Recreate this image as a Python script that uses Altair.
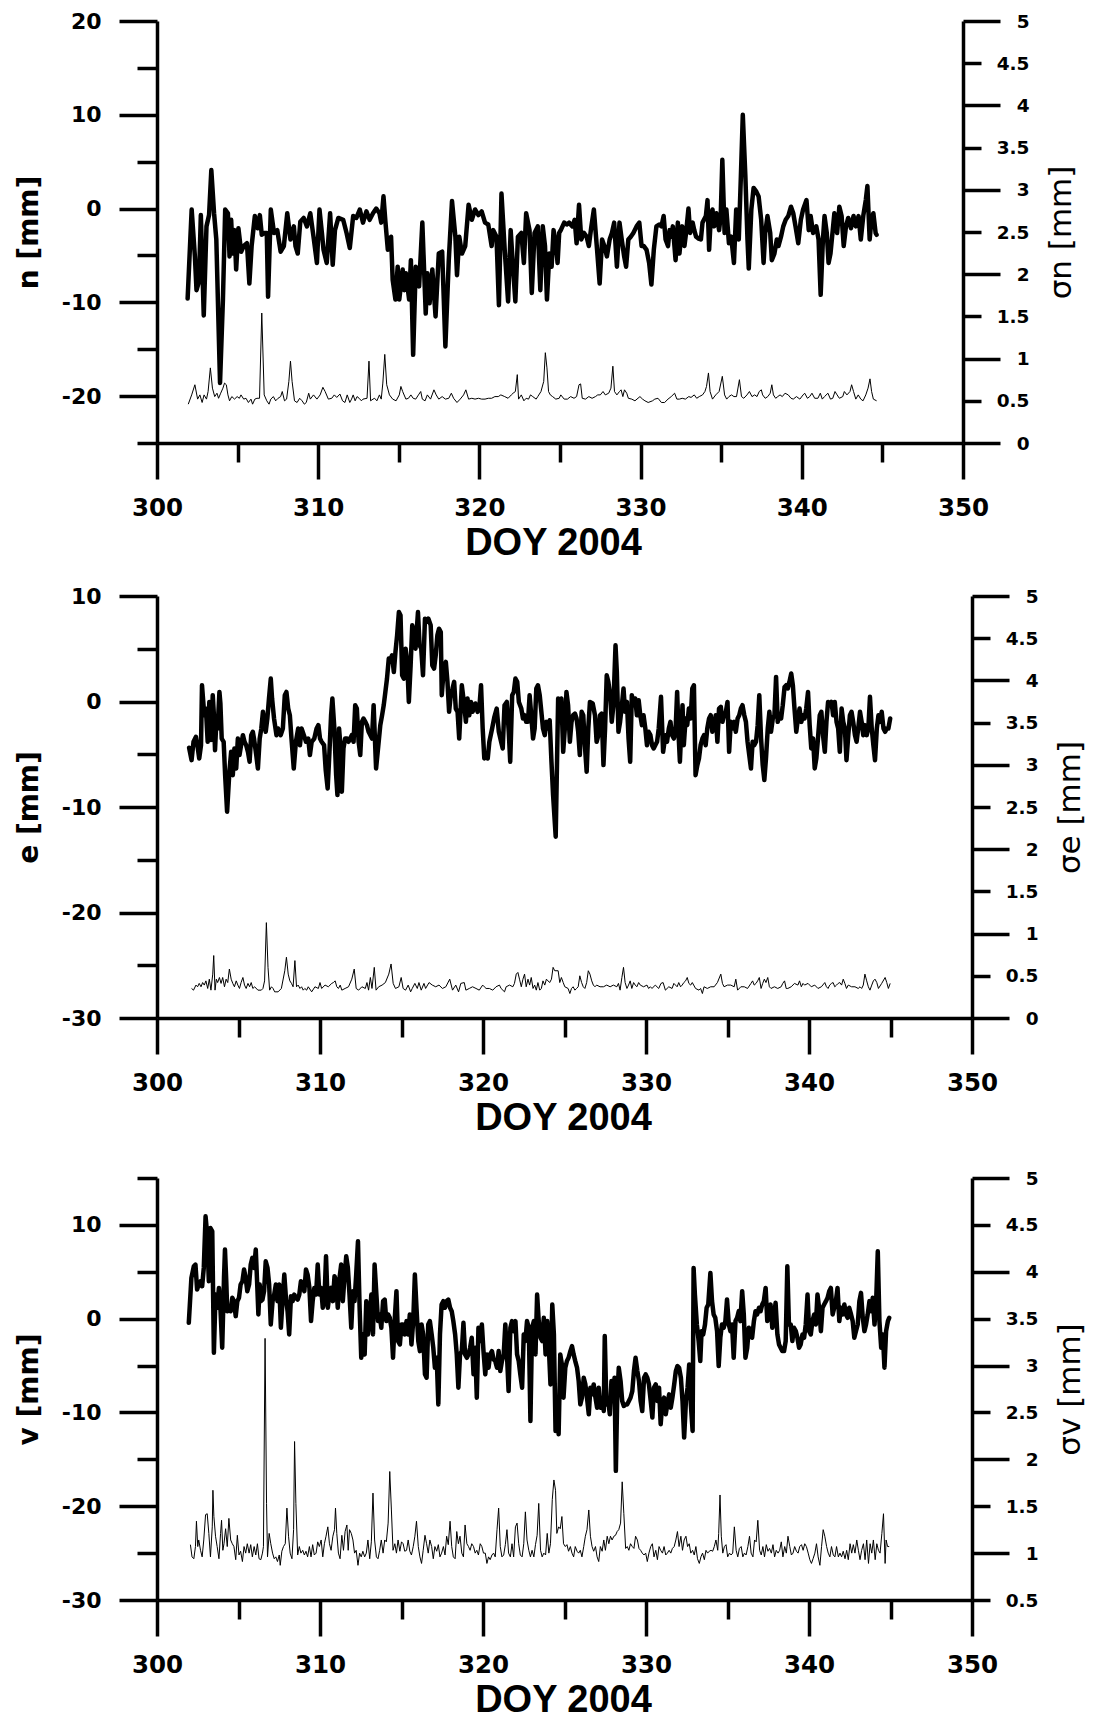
import altair as alt
import pandas as pd

# ---------------- data (DOY 2004, value) ----------------
N_SERIES = [
(301.90,-9.6),(302.15,-0.1),(302.35,-5.1),(302.45,-8.7),(302.60,-7.8),(302.72,-0.7),(302.90,-11.4),(303.07,-1.9),(303.23,-0.7),(303.37,4.1),
(303.54,-0.5),(303.68,-3.3),(303.91,-18.6),(304.09,-9.7),(304.23,-0.1),(304.40,-0.5),(304.50,-5.1),(304.60,-1.2),(304.70,-4.8),(304.81,-2.3),
(304.91,-6.5),(305.05,-2.1),(305.22,-4.6),(305.38,-4.0),(305.58,-3.7),(305.73,-8.0),(305.87,-4.0),(306.07,-0.8),(306.24,-2.1),(306.38,-0.7),
(306.50,-2.8),(306.65,-2.6),(306.81,-2.6),(306.89,-9.4),(307.06,-0.1),(307.26,-2.6),(307.46,-2.3),(307.67,-4.6),(307.87,-4.0),(308.08,-0.5),
(308.28,-3.3),(308.49,-1.9),(308.59,-4.0),(308.73,-4.8),(308.89,-1.4),(309.10,-1.0),(309.30,-1.9),(309.51,-0.5),(309.71,-3.0),(309.92,-5.8),
(310.08,-0.1),(310.23,-2.6),(310.33,-4.4),(310.53,-5.8),(310.74,-0.5),(310.90,-6.0),(311.04,-2.3),(311.25,-1.0),(311.55,-1.2),(311.76,-2.6),
(311.96,-4.2),(312.17,-0.8),(312.37,-1.0),(312.58,-0.1),(312.78,-1.5),(312.99,-0.3),(313.19,-1.2),(313.40,-0.5),(313.60,0.0),(313.80,-0.5),
(313.91,-1.5),(314.05,1.3),(314.17,-1.4),(314.32,-4.4),(314.52,-3.0),(314.62,-7.6),(314.79,-9.7),(314.93,-6.2),(315.03,-9.7),(315.24,-6.5),
(315.34,-8.7),(315.44,-6.9),(315.64,-9.7),(315.75,-5.5),(315.89,-15.6),(316.05,-6.2),(316.26,-8.3),(316.46,-1.5),(316.67,-11.2),(316.77,-6.9),
(316.91,-10.1),(317.08,-6.5),(317.28,-11.5),(317.48,-4.8),(317.69,-4.6),(317.89,-14.7),(318.10,-5.5),(318.30,0.8),(318.51,-3.0),(318.61,-7.1),
(318.75,-3.0),(318.92,-4.8),(319.12,-4.0),(319.33,0.4),(319.53,-1.2),(319.73,-0.1),(319.94,-0.7),(320.14,-0.3),(320.35,-1.5),(320.55,-1.7),
(320.76,-4.0),(320.86,-2.3),(321.06,-3.0),(321.21,-10.3),(321.37,1.6),(321.57,-4.4),(321.78,-9.9),(321.94,-2.3),(322.11,-6.9),(322.23,-9.9),
(322.39,-3.0),(322.60,-2.6),(322.76,-5.8),(322.90,-0.5),(323.11,-2.3),(323.25,-9.0),(323.42,-2.6),
(323.62,-1.9),(323.78,-8.7),(323.93,-1.9),(324.07,-4.0),(324.19,-9.7),(324.34,-4.8),(324.48,-6.2),(324.60,-2.3),(324.74,-3.7),(324.85,-5.8),
(324.95,-2.6),(325.05,-2.3),(325.26,-1.5),(325.42,-1.7),(325.56,-1.5),(325.77,-1.9),(325.91,-1.2),(326.03,-3.7),(326.18,0.4),(326.32,-3.3),
(326.48,-2.6),(326.65,-3.0),(326.79,-4.0),(326.93,-2.1),(327.10,-0.1),(327.30,-4.4),(327.46,-8.0),(327.61,-3.3),(327.75,-4.0),(327.91,-5.1),
(328.08,-3.3),(328.22,-2.6),(328.36,-1.5),(328.53,-6.2),(328.69,-1.5),(328.83,-3.3),(328.98,-5.1),(329.10,-6.2),(329.24,-3.3),(329.39,-3.0),
(329.55,-2.6),(329.75,-1.9),(329.92,-1.5),(330.06,-4.0),(330.20,-4.0),(330.37,-4.4),(330.53,-5.8),(330.67,-8.1),(330.82,-4.4),(330.98,-1.9),
(331.15,-1.7),(331.29,-1.9),(331.43,-0.8),(331.55,-3.3),(331.70,-4.0),(331.80,-2.3),(331.90,-3.0),(332.00,-1.9),(332.17,-5.5),(332.31,-1.5),
(332.41,-4.8),(332.58,-1.9),(332.72,-4.0),(332.82,-2.6),(332.97,0.0),(333.07,-2.6),(333.23,-1.5),(333.33,-2.3),(333.44,-3.0),(333.60,-3.2),
(333.74,-3.3),(333.84,-1.5),(334.05,-0.8),(334.15,0.9),(334.25,-4.4),(334.36,-0.8),(334.46,-0.1),(334.56,-1.9),(334.70,-0.5),(334.87,-2.3),
(334.97,-0.8),(335.07,5.2),(335.21,-2.6),(335.32,-0.1),(335.48,-3.7),(335.62,-3.0),(335.79,-5.8),(335.93,-0.1),(336.09,-3.3),(336.22,3.4),
(336.34,10.0),(336.50,3.4),(336.63,-3.3),(336.71,-6.4),(336.87,-0.1),(337.01,2.2),(337.18,1.8),(337.32,1.3),(337.48,-1.2),(337.63,-5.8),
(337.73,-2.6),(337.87,-0.8),(338.04,-2.6),(338.14,-5.5),(338.30,-4.8),(338.45,-3.3),(338.55,-4.0),(338.71,-3.0),(338.85,-1.9),(339.00,-1.2),
(339.16,-0.8),(339.33,0.2),(339.47,-0.5),(339.61,-1.9),(339.78,-3.7),(339.94,-1.2),(340.08,-0.1),(340.29,0.9),(340.43,-2.3),(340.55,-0.8),
(340.70,-2.6),(340.90,-1.9),(341.04,-3.3),(341.17,-9.2),(341.31,-3.3),(341.41,-0.8),(341.55,-2.6),(341.66,-5.8),(341.78,-4.8),(341.92,-2.3),
(342.02,-0.5),(342.19,-2.6),(342.33,0.2),(342.47,-0.8),(342.60,-4.0),(342.74,-1.9),(342.88,-1.0),(343.05,-2.1),(343.21,-0.8),(343.35,-1.9),
(343.52,-0.8),(343.66,-3.3),(343.82,-0.7),(343.97,0.9),(344.07,2.4),(344.21,-3.3),(344.32,-1.2),(344.44,-0.5),(344.58,-2.6),(344.64,-2.8),
]

SIG_N_SERIES = [
(301.94,0.46),(302.15,0.57),(302.35,0.69),(302.52,0.52),(302.66,0.57),(302.80,0.48),(302.92,0.57),(303.07,0.52),(303.17,0.61),(303.31,0.89),
(303.44,0.65),(303.58,0.55),(303.72,0.59),(303.82,0.53),(303.95,0.59),(304.09,0.65),(304.19,0.71),(304.30,0.69),(304.40,0.57),(304.50,0.50),
(304.64,0.55),(304.81,0.52),(304.97,0.55),(305.11,0.53),(305.21,0.57),(305.38,0.52),(305.52,0.53),(305.67,0.48),(305.83,0.52),(305.93,0.46),
(306.07,0.52),(306.20,0.53),(306.36,0.53),(306.50,1.54),(306.65,0.57),(306.81,0.50),(306.95,0.46),(307.06,0.52),(307.22,0.55),(307.36,0.50),
(307.51,0.53),(307.67,0.55),(307.77,0.61),(307.91,0.50),(308.04,0.52),(308.18,0.73),(308.28,0.97),(308.38,0.73),(308.53,0.50),(308.69,0.48),
(308.85,0.53),(309.00,0.50),(309.14,0.46),(309.26,0.48),(309.41,0.59),(309.51,0.52),(309.71,0.57),(309.92,0.52),(310.12,0.57),(310.29,0.66),
(310.43,0.61),(310.63,0.52),(310.84,0.53),(311.00,0.57),(311.15,0.54),(311.35,0.58),(311.51,0.50),(311.66,0.48),(311.80,0.57),(311.96,0.48),
(312.07,0.52),(312.17,0.57),(312.29,0.50),(312.41,0.55),(312.54,0.53),(312.68,0.50),(312.78,0.52),(313.03,0.53),(313.15,0.97),(313.25,0.50),
(313.40,0.52),(313.50,0.53),(313.64,0.50),(313.80,0.57),(313.91,0.52),(314.01,0.71),(314.13,1.05),(314.25,0.69),(314.42,0.57),(314.62,0.52),
(314.83,0.50),(315.03,0.57),(315.13,0.67),(315.24,0.61),(315.44,0.52),(315.60,0.53),(315.75,0.57),(315.89,0.53),(316.05,0.52),(316.22,0.57),
(316.36,0.61),(316.46,0.52),(316.63,0.50),(316.77,0.57),(316.97,0.52),(317.18,0.63),(317.32,0.57),(317.48,0.52),(317.69,0.55),(317.89,0.52),
(318.10,0.53),(318.26,0.59),(318.40,0.53),(318.61,0.48),(318.81,0.52),(319.02,0.57),(319.16,0.63),(319.33,0.52),(319.53,0.53),(319.73,0.52),
(319.94,0.53),(320.14,0.52),(320.35,0.52),(320.55,0.53),(320.76,0.53),(320.96,0.55),(321.17,0.55),(321.33,0.57),(321.57,0.55),(321.78,0.53),
(321.98,0.57),(322.09,0.59),(322.23,0.61),(322.35,0.81),(322.43,0.52),(322.60,0.57),(322.76,0.50),(322.90,0.53),(323.05,0.52),(323.17,0.57),
(323.31,0.55),(323.52,0.52),
(323.62,0.55),(323.82,0.61),(323.99,0.73),(324.09,1.07),(324.19,0.89),(324.29,0.61),(324.40,0.57),(324.54,0.55),(324.74,0.52),(324.95,0.53),
(325.05,0.57),(325.26,0.52),(325.46,0.52),(325.66,0.55),(325.87,0.53),(326.03,0.55),(326.18,0.69),(326.28,0.70),(326.38,0.53),(326.58,0.52),
(326.79,0.55),(326.99,0.53),(327.20,0.55),(327.34,0.57),(327.50,0.57),(327.67,0.61),(327.81,0.57),(328.02,0.59),(328.16,0.65),(328.28,0.91),
(328.38,0.61),(328.53,0.57),(328.69,0.61),(328.79,0.63),(328.90,0.55),(329.00,0.63),(329.14,0.59),(329.24,0.53),(329.45,0.52),(329.65,0.50),
(329.96,0.55),(330.12,0.52),(330.27,0.50),(330.47,0.48),(330.74,0.50),(330.88,0.52),(331.08,0.53),(331.29,0.48),(331.49,0.48),(331.70,0.52),
(331.90,0.55),(332.11,0.59),(332.25,0.52),(332.41,0.52),(332.58,0.53),(332.78,0.52),(332.99,0.55),(333.13,0.54),(333.33,0.57),(333.48,0.53),
(333.64,0.55),(333.84,0.57),(333.99,0.61),(334.09,0.67),(334.21,0.83),(334.31,0.61),(334.46,0.52),(334.66,0.57),(334.87,0.61),(335.07,0.79),
(335.21,0.57),(335.34,0.52),(335.48,0.55),(335.64,0.57),(335.79,0.55),(335.95,0.55),(336.13,0.75),(336.26,0.55),(336.40,0.53),(336.60,0.57),
(336.75,0.61),(336.91,0.55),(337.08,0.57),(337.22,0.55),(337.36,0.61),(337.49,0.63),(337.57,0.57),(337.73,0.53),(337.89,0.55),(338.04,0.59),
(338.14,0.69),(338.24,0.57),(338.38,0.53),(338.51,0.55),(338.65,0.57),(338.79,0.55),(338.96,0.59),(339.16,0.57),(339.33,0.53),(339.47,0.52),
(339.67,0.55),(339.88,0.52),(340.08,0.57),(340.18,0.59),(340.35,0.53),(340.49,0.55),(340.63,0.59),(340.80,0.53),(341.00,0.53),(341.15,0.59),
(341.27,0.52),(341.41,0.55),(341.62,0.59),(341.78,0.52),(341.92,0.53),(342.06,0.61),(342.19,0.57),(342.33,0.53),(342.54,0.55),(342.64,0.61),
(342.80,0.57),(342.99,0.61),(343.09,0.69),(343.21,0.61),(343.35,0.52),(343.50,0.57),(343.66,0.52),(343.80,0.50),(343.97,0.57),(344.11,0.65),
(344.23,0.76),(344.33,0.61),(344.44,0.52),(344.64,0.50),
]

E_SERIES = [
(301.97,-4.39),(302.12,-5.56),(302.24,-3.82),(302.39,-3.35),(302.49,-4.29),(302.59,-5.40),(302.70,-4.14),(302.76,1.54),(302.90,-1.30),(303.00,-0.67),
(303.11,-3.82),(303.21,-0.04),(303.31,-3.66),(303.42,0.60),(303.48,-0.98),(303.56,-4.61),(303.64,-1.93),(303.72,-2.56),(303.83,0.91),(303.89,-0.19),
(303.97,-3.51),(304.09,-3.82),(304.18,-6.98),(304.30,-10.45),(304.44,-6.66),(304.55,-4.77),(304.65,-6.98),(304.75,-4.45),(304.86,-6.35),(304.96,-3.51),
(305.06,-5.08),(305.16,-4.14),(305.27,-3.19),(305.37,-3.82),(305.47,-4.14),(305.58,-4.77),(305.68,-5.71),(305.78,-3.19),(305.88,-2.87),(305.95,-3.51),
(306.09,-5.08),(306.19,-6.35),(306.30,-3.51),(306.40,-2.56),(306.50,-0.98),(306.60,-2.24),(306.67,-2.87),(306.77,-1.61),(306.87,0.28),(306.98,2.17),
(307.06,0.28),(307.18,-1.61),(307.33,-3.19),(307.43,-2.56),(307.59,-3.19),(307.72,-2.56),(307.84,0.60),(307.94,0.91),(308.05,-0.67),(308.15,-1.30),
(308.25,-3.51),(308.39,-6.35),(308.52,-3.82),(308.66,-2.56),(308.77,-4.14),(308.87,-2.56),(309.01,-3.19),(309.14,-3.82),(309.28,-3.51),(309.38,-5.08),
(309.49,-3.82),(309.65,-3.51),(309.79,-2.56),(309.90,-2.24),(310.00,-3.51),(310.10,-3.82),(310.25,-4.14),(310.35,-6.50),(310.47,-8.24),(310.58,-4.77),
(310.68,-1.30),(310.76,0.28),(310.88,-2.56),(310.99,-6.98),(311.07,-8.87),(311.17,-2.56),(311.30,-5.08),(311.34,-8.55),(311.44,-4.45),(311.54,-3.51),
(311.65,-3.51),(311.75,-3.82),(311.85,-3.51),(311.95,-3.19),(312.06,-3.82),(312.16,-0.35),(312.26,-0.67),(312.37,-3.82),(312.47,-5.08),(312.57,-1.93),
(312.67,-1.61),(312.78,-1.93),(312.88,-2.24),(312.98,-2.87),(313.09,-3.19),(313.19,-3.51),(313.29,-0.35),(313.44,-6.35),(313.56,-4.45),(313.70,-2.24),
(313.81,-1.30),(313.91,-0.35),(314.01,0.91),(314.11,2.17),(314.22,4.07),(314.32,3.91),(314.42,4.38),(314.53,2.80),(314.63,4.70),(314.73,6.27),
(314.84,8.48),(314.94,8.17),(315.04,2.49),(315.14,2.17),(315.25,5.01),(315.35,3.75),(315.45,-0.04),(315.56,3.43),(315.66,7.22),(315.76,6.59),
(315.86,5.01),(316.01,8.48),(316.11,5.33),(316.21,5.01),(316.32,2.49),(316.44,7.85),(316.54,7.54),(316.65,7.85),(316.79,7.22),(316.89,3.43),
(317.00,3.12),(317.10,4.38),(317.20,6.27),(317.30,6.90),(317.41,6.59),(317.47,0.60),(317.61,3.43),(317.72,3.75),(317.82,1.86),(317.92,-0.98),
(318.02,0.60),(318.13,1.23),(318.23,1.86),(318.33,-0.67),(318.44,-0.98),(318.54,-3.51),(318.70,1.54),(318.85,-0.35),(318.95,-1.93),(319.05,0.28),
(319.16,-1.30),(319.26,-0.04),(319.36,-0.98),(319.53,-0.19),(319.67,-0.98),(319.77,-0.67),(319.88,1.54),(319.98,-2.56),(320.08,-5.40),(320.19,-5.08),
(320.29,-5.40),(320.39,-3.82),(320.56,-2.56),(320.70,-1.45),(320.84,-0.67),(320.97,-2.87),(321.11,-3.82),(321.21,-4.45),(321.32,-0.35),(321.46,-0.04),
(321.58,-2.87),(321.67,-5.71),(321.79,0.60),(321.89,0.91),(321.99,2.17),(322.10,1.86),(322.20,-0.04),(322.35,-0.67),(322.45,-1.61),(322.55,-1.30),
(322.65,-1.93),(322.76,-1.93),(322.86,0.60),(322.96,-1.30),(323.07,-3.51),(323.17,-2.56),(323.27,1.23),(323.37,1.54),(323.48,0.60),(323.58,-0.98),
(323.68,-2.56),(323.79,-3.19),(323.89,-1.93),(323.99,-2.56),(324.09,-1.77),(324.20,-5.71),(324.30,-8.87),
(324.46,-12.81),(324.61,0.28),(324.71,-0.67),(324.81,0.28),(324.92,-4.77),(325.02,-2.56),(325.12,0.91),(325.22,-0.35),(325.33,-3.82),(325.43,-1.93),
(325.53,-1.30),(325.64,-1.14),(325.74,-1.61),(325.84,-2.87),(325.94,-5.08),(326.05,-0.98),(326.15,-1.30),(326.25,-4.14),(326.36,-6.66),(326.46,-2.56),
(326.56,-0.04),(326.73,-0.19),(326.87,-1.30),(326.97,-3.82),(327.08,-3.19),(327.18,-1.30),(327.28,-1.14),(327.39,-6.03),(327.49,-2.56),(327.59,2.49),
(327.69,1.86),(327.80,0.60),(327.90,-1.93),(328.00,-0.35),(328.13,5.33),(328.21,2.80),(328.31,-2.87),(328.41,-1.93),(328.52,-0.35),(328.62,1.23),
(328.72,-0.98),(328.83,-0.04),(328.93,-3.51),(329.03,-5.71),(329.13,0.60),(329.24,-0.35),(329.34,0.28),(329.44,-1.30),(329.55,0.12),(329.65,-1.30),
(329.75,-2.24),(329.85,-1.30),(329.96,-2.56),(330.06,-4.14),(330.16,-2.87),(330.27,-3.19),(330.37,-4.14),(330.47,-4.45),(330.57,-4.14),(330.68,-3.82),
(330.78,-2.56),(330.92,0.44),(331.05,-4.77),(331.19,-3.19),(331.29,-3.82),(331.40,-2.56),(331.50,-1.93),(331.60,-3.19),(331.71,-3.51),(331.81,-2.87),
(331.91,0.91),(332.01,-3.51),(332.08,-5.71),(332.16,-2.87),(332.24,-0.35),(332.32,-4.14),(332.43,-1.61),(332.53,-2.24),(332.63,-0.67),(332.74,-1.61),
(332.84,1.23),(332.94,1.54),(333.04,-6.98),(333.15,-6.03),(333.25,-5.40),(333.35,-4.14),(333.46,-3.51),(333.56,-3.19),(333.66,-4.14),(333.76,-2.56),
(333.87,-1.61),(333.97,-1.30),(334.07,-2.87),(334.18,-2.24),(334.28,-1.30),(334.38,-3.82),(334.48,-0.67),(334.59,-0.51),(334.69,-1.93),(334.79,-1.30),
(334.90,-0.98),(335.00,-0.04),(335.10,-4.77),(335.20,-1.93),(335.31,-2.56),(335.41,-1.93),(335.51,-2.87),(335.62,-1.61),(335.72,-1.30),(335.82,-0.67),
(335.92,-0.35),(336.03,-1.30),(336.13,-1.93),(336.23,-3.82),(336.44,-6.35),(336.54,-3.82),(336.64,-4.14),(336.75,-3.82),(336.85,-2.24),(336.95,0.60),
(337.06,-3.51),(337.16,-6.03),(337.26,-7.45),(337.36,-5.40),(337.47,-2.56),(337.57,-0.98),(337.67,-2.87),(337.78,-1.61),(337.88,-1.30),(337.98,2.33),
(338.08,-1.93),(338.19,-1.30),(338.29,-1.61),(338.39,-0.35),(338.50,1.38),(338.60,1.54),(338.70,1.23),(338.80,1.86),(338.91,2.65),(339.01,1.54),
(339.11,-0.67),(339.22,-2.87),(339.32,-1.61),(339.42,-0.67),(339.53,-1.93),(339.63,-1.30),(339.73,-1.61),(339.83,-0.67),(339.94,0.91),(340.04,-2.24),
(340.14,-4.45),(340.25,-3.51),(340.35,-6.35),(340.45,-5.40),(340.55,-3.51),(340.66,-1.30),(340.76,-0.98),(340.86,-3.19),(340.97,-4.77),(341.07,-1.93),
(341.17,-0.04),(341.27,-0.35),(341.38,-0.04),(341.48,-1.30),(341.58,-0.04),(341.69,-1.93),(341.79,-2.56),(341.89,-4.77),(342.00,-0.67),(342.10,-1.93),
(342.20,-2.56),(342.30,-5.56),(342.41,-3.19),(342.51,-1.30),(342.61,-0.98),(342.71,-1.93),(342.82,-3.19),(342.92,-3.82),(343.02,-2.56),(343.13,-0.98),
(343.23,-1.93),(343.33,-3.19),(343.43,-2.24),(343.54,-3.19),(343.64,-2.56),(343.74,0.44),(343.85,-2.56),(343.95,-4.14),(344.05,-5.56),(344.16,-2.56),
(344.26,-1.30),(344.36,-1.93),(344.46,-0.98),(344.57,-2.56),(344.67,-2.87),(344.77,-2.56),(344.87,-2.56),(344.98,-1.61),
]

SIG_E_SERIES = [
(302.12,0.35),(302.24,0.33),(302.39,0.39),(302.49,0.37),(302.59,0.41),(302.70,0.37),(302.80,0.42),(302.90,0.39),(303.00,0.44),(303.11,0.35),
(303.21,0.46),(303.31,0.33),(303.42,0.52),(303.48,0.74),(303.56,0.33),(303.64,0.46),(303.72,0.42),(303.83,0.48),(303.93,0.41),(304.03,0.48),
(304.14,0.37),(304.24,0.46),(304.34,0.42),(304.44,0.58),(304.55,0.46),(304.65,0.41),(304.75,0.37),(304.86,0.44),(304.96,0.39),(305.06,0.35),
(305.16,0.42),(305.27,0.48),(305.37,0.39),(305.47,0.35),(305.58,0.41),(305.68,0.37),(305.78,0.42),(305.88,0.35),(305.99,0.37),(306.19,0.33),
(306.40,0.33),(306.50,0.35),(306.60,0.44),(306.71,1.13),(306.81,0.60),(306.91,0.33),(307.02,0.37),(307.12,0.35),(307.22,0.31),(307.43,0.31),
(307.63,0.35),(307.84,0.56),(307.94,0.72),(308.05,0.52),(308.15,0.44),(308.25,0.41),(308.35,0.37),(308.46,0.68),(308.56,0.37),(308.66,0.39),
(308.77,0.35),(308.87,0.37),(308.97,0.33),(309.07,0.35),(309.18,0.33),(309.28,0.37),(309.49,0.31),(309.69,0.37),(309.90,0.35),(310.00,0.42),
(310.10,0.35),(310.31,0.39),(310.51,0.37),(310.72,0.41),(310.82,0.42),(310.93,0.44),(311.03,0.37),(311.13,0.35),(311.24,0.39),(311.34,0.33),
(311.54,0.35),(311.75,0.37),(311.95,0.46),(312.10,0.58),(312.22,0.35),(312.37,0.33),(312.57,0.37),(312.78,0.35),(312.88,0.42),(312.98,0.33),
(313.09,0.48),(313.19,0.35),(313.33,0.60),(313.44,0.33),(313.60,0.37),(313.81,0.39),(314.01,0.42),(314.22,0.52),(314.36,0.64),(314.49,0.41),
(314.63,0.35),(314.84,0.37),(314.98,0.48),(315.10,0.35),(315.25,0.33),(315.41,0.39),(315.56,0.31),(315.66,0.35),(315.82,0.41),(315.97,0.35),
(316.07,0.42),(316.21,0.33),(316.38,0.41),(316.48,0.35),(316.69,0.42),(316.89,0.39),(317.10,0.37),(317.30,0.39),(317.51,0.35),(317.72,0.37),
(317.96,0.46),(318.13,0.33),(318.33,0.39),(318.50,0.31),(318.64,0.41),(318.85,0.42),(318.95,0.33),(319.16,0.35),(319.36,0.37),(319.57,0.35),
(319.77,0.33),(319.98,0.39),(320.08,0.37),(320.19,0.35),(320.39,0.35),(320.60,0.33),(320.80,0.37),(321.01,0.39),(321.11,0.35),(321.32,0.31),
(321.42,0.37),(321.63,0.39),(321.83,0.37),(321.93,0.41),(322.04,0.52),(322.14,0.54),(322.24,0.46),(322.35,0.37),(322.45,0.46),(322.55,0.52),
(322.65,0.37),(322.76,0.46),(322.86,0.39),(322.96,0.48),(323.07,0.35),(323.17,0.39),(323.27,0.33),(323.37,0.42),(323.48,0.33),(323.58,0.35),
(323.68,0.44),(323.79,0.39),(323.89,0.46),(324.09,0.42),(324.20,0.46),(324.30,0.60),(324.40,0.56),
(324.61,0.56),(324.71,0.42),(324.81,0.48),(324.92,0.42),(325.02,0.37),(325.22,0.35),(325.33,0.29),(325.43,0.35),(325.53,0.37),(325.64,0.33),
(325.74,0.35),(325.84,0.37),(325.94,0.50),(326.05,0.42),(326.15,0.37),(326.25,0.35),(326.36,0.42),(326.46,0.56),(326.56,0.52),(326.67,0.44),
(326.77,0.39),(326.87,0.37),(326.97,0.39),(327.18,0.37),(327.39,0.37),(327.59,0.39),(327.80,0.37),(328.00,0.39),(328.21,0.37),(328.31,0.41),
(328.41,0.33),(328.52,0.48),(328.62,0.60),(328.72,0.42),(328.83,0.35),(328.93,0.39),(329.03,0.44),(329.13,0.35),(329.24,0.42),(329.34,0.39),
(329.44,0.37),(329.55,0.42),(329.65,0.39),(329.85,0.37),(330.06,0.39),(330.16,0.35),(330.27,0.37),(330.37,0.35),(330.57,0.39),(330.78,0.35),
(330.92,0.41),(331.05,0.42),(331.19,0.33),(331.40,0.37),(331.60,0.35),(331.71,0.41),(331.91,0.37),(332.01,0.42),(332.12,0.37),(332.22,0.39),
(332.32,0.42),(332.43,0.44),(332.53,0.48),(332.63,0.41),(332.74,0.39),(332.84,0.42),(333.04,0.35),(333.25,0.33),(333.35,0.35),(333.46,0.29),
(333.56,0.37),(333.76,0.35),(333.97,0.37),(334.18,0.37),(334.38,0.42),(334.59,0.52),(334.69,0.41),(334.79,0.37),(335.00,0.39),(335.20,0.39),
(335.41,0.37),(335.51,0.46),(335.62,0.33),(335.82,0.37),(336.03,0.37),(336.23,0.35),(336.44,0.41),(336.54,0.44),(336.64,0.39),(336.75,0.41),
(336.85,0.44),(336.95,0.48),(337.06,0.35),(337.16,0.41),(337.26,0.46),(337.36,0.42),(337.47,0.48),(337.57,0.37),(337.67,0.35),(337.88,0.37),
(338.08,0.35),(338.29,0.37),(338.39,0.41),(338.50,0.44),(338.60,0.35),(338.70,0.35),(338.91,0.37),(339.11,0.41),(339.32,0.39),(339.42,0.44),
(339.53,0.37),(339.63,0.41),(339.73,0.39),(339.94,0.41),(340.14,0.37),(340.35,0.39),(340.55,0.35),(340.76,0.37),(340.97,0.42),(341.07,0.37),
(341.17,0.35),(341.27,0.39),(341.38,0.41),(341.48,0.42),(341.58,0.37),(341.69,0.39),(341.79,0.41),(341.89,0.42),(342.00,0.39),(342.10,0.46),
(342.20,0.41),(342.30,0.35),(342.41,0.39),(342.61,0.37),(342.82,0.37),(343.02,0.35),(343.13,0.37),(343.23,0.35),(343.33,0.39),(343.43,0.52),
(343.54,0.44),(343.64,0.37),(343.74,0.33),(343.85,0.39),(343.95,0.44),(344.05,0.46),(344.16,0.42),(344.26,0.35),(344.46,0.41),(344.67,0.48),
(344.77,0.42),(344.87,0.35),(344.98,0.41),
]

V_SERIES = [
(301.95,-0.44),(302.11,4.35),(302.26,5.59),(302.36,5.77),(302.46,3.11),(302.56,3.64),(302.67,3.99),(302.77,3.46),(302.87,5.41),(302.98,10.91),
(303.08,8.96),(303.18,3.99),(303.28,9.67),(303.39,9.32),(303.49,-3.63),(303.59,2.57),(303.69,1.16),(303.80,3.28),(303.90,0.80),(304.00,-3.10),
(304.11,4.35),(304.17,7.37),(304.25,3.99),(304.31,0.80),(304.41,1.16),(304.52,0.80),(304.62,2.22),(304.72,1.87),(304.83,0.27),(304.93,1.87),
(305.03,2.22),(305.13,3.64),(305.24,3.99),(305.34,5.24),(305.44,4.35),(305.54,2.93),(305.65,3.64),(305.75,5.77),(305.85,6.48),(305.96,5.41),
(306.06,7.37),(306.16,3.11),(306.22,0.45),(306.30,3.64),(306.37,1.87),(306.47,2.04),(306.57,2.93),(306.67,6.12),(306.78,5.41),(306.88,3.64),
(306.98,-0.62),(307.09,1.87),(307.19,2.57),(307.29,3.64),(307.39,1.87),(307.50,3.64),(307.60,-0.97),(307.70,1.87),(307.81,4.70),(307.91,2.22),
(308.01,0.80),(308.11,-1.68),(308.22,2.40),(308.32,1.87),(308.42,2.57),(308.52,2.22),(308.63,2.04),(308.73,2.57),(308.83,3.99),(308.94,3.46),
(309.04,2.93),(309.14,5.24),(309.24,4.70),(309.35,3.28),(309.45,-0.26),(309.55,1.87),(309.65,3.28),(309.76,2.57),(309.86,5.77),(309.96,2.57),
(310.07,3.28),(310.17,1.16),(310.27,1.87),(310.37,6.66),(310.48,1.16),(310.58,2.57),(310.68,3.28),(310.79,1.87),(310.89,4.53),(310.99,3.99),
(311.09,1.16),(311.20,4.35),(311.30,5.77),(311.40,1.87),(311.50,4.35),(311.61,6.66),(311.71,5.41),(311.81,2.57),(311.92,-0.97),(312.02,2.93),
(312.12,1.87),(312.22,4.70),(312.33,8.25),(312.43,1.16),(312.53,-4.17),(312.63,-1.68),(312.74,-3.81),(312.84,1.87),(312.94,-1.68),(313.05,0.09),
(313.15,2.57),(313.25,-1.68),(313.35,5.77),(313.46,2.57),(313.56,-0.26),(313.66,0.45),(313.76,-0.97),(313.87,1.87),(313.97,2.04),(314.07,-0.26),
(314.18,0.45),(314.28,0.09),(314.38,-0.97),(314.48,-4.17),(314.59,0.09),(314.69,2.93),(314.79,-2.39),(314.90,-2.75),(315.00,-0.62),(315.10,-0.62),
(315.20,-1.68),(315.31,-0.26),(315.41,-1.68),(315.51,0.45),(315.61,-2.75),(315.72,-0.26),(315.82,4.70),(315.92,1.16),(316.03,-2.39),(316.13,-3.46),
(316.23,-0.62),(316.33,-1.68),(316.44,-5.94),(316.54,-6.30),(316.64,-0.62),(316.74,-0.26),(316.85,-1.68),(316.95,-3.10),(317.05,-5.23),(317.16,-4.17),
(317.26,-9.14),(317.36,-1.68),(317.46,1.51),(317.57,1.87),(317.67,1.16),(317.77,1.87),(317.87,2.04),(317.98,1.16),(318.08,0.80),(318.18,-0.26),
(318.29,-1.68),(318.39,-3.81),(318.49,-7.36),(318.59,-3.81),(318.70,-3.46),(318.80,-0.44),(318.90,-3.81),(319.01,-4.17),(319.11,-3.81),(319.21,-3.10),
(319.31,-2.04),(319.42,-5.94),(319.52,-3.10),(319.62,-8.43),(319.72,-0.97),(319.83,-2.39),(319.93,-0.62),(320.03,-3.46),(320.14,-5.94),(320.24,-3.81),
(320.34,-5.23),(320.44,-3.81),(320.55,-3.46),(320.65,-4.34),(320.75,-4.52),(320.86,-5.23),(320.96,-3.46),(321.06,-5.59),(321.16,-4.52),(321.27,-3.81),
(321.37,-0.62),(321.47,-3.81),(321.57,-7.72),(321.68,-0.97),(321.78,-0.26),(321.88,-1.33),(321.99,-0.26),(322.09,-3.81),(322.19,-4.52),(322.29,-5.94),
(322.40,-7.36),(322.50,-1.68),(322.60,-2.39),(322.70,-0.26),(322.81,-0.97),(322.91,-10.91),(323.01,-0.97),(323.12,-0.26),(323.22,-3.81),(323.32,2.57),
(323.42,-0.26),(323.53,-2.04),(323.63,-2.39),(323.73,0.09),(323.84,-3.81),(323.94,-0.26),(324.04,-3.10),(324.14,-7.01),(324.25,1.51),(324.35,-1.68),
(324.45,-11.97),
(324.53,-9.49),(324.64,-12.33),(324.74,-3.81),(324.84,-4.88),(324.94,-8.43),(325.05,-5.23),(325.15,-4.52),(325.25,-4.17),(325.36,-3.46),(325.46,-2.93),
(325.56,-3.81),(325.66,-4.52),(325.77,-5.23),(325.87,-6.65),(325.97,-9.14),(326.07,-8.43),(326.18,-6.30),(326.28,-7.01),(326.38,-8.43),(326.49,-10.20),
(326.59,-7.36),(326.69,-8.07),(326.79,-7.01),(326.90,-8.43),(327.00,-9.49),(327.10,-7.36),(327.20,-9.49),(327.31,-8.43),(327.41,-9.85),(327.47,-1.86),
(327.57,-9.14),(327.68,-8.78),(327.78,-10.20),(327.88,-6.65),(327.99,-8.78),(328.07,-6.30),(328.15,-16.23),(328.23,-8.78),(328.33,-5.23),(328.44,-6.65),
(328.54,-8.78),(328.64,-9.31),(328.75,-9.14),(328.85,-9.14),(328.95,-8.78),(329.05,-8.43),(329.16,-7.72),(329.26,-5.59),(329.36,-4.17),(329.47,-5.59),
(329.57,-6.65),(329.67,-8.78),(329.77,-9.85),(329.88,-6.30),(329.98,-5.94),(330.08,-6.30),(330.18,-7.01),(330.29,-8.78),(330.39,-10.55),(330.49,-7.36),
(330.60,-7.01),(330.70,-8.78),(330.80,-7.36),(330.90,-11.26),(331.01,-8.78),(331.11,-8.43),(331.21,-10.20),(331.31,-9.14),(331.42,-8.07),(331.52,-9.49),
(331.62,-8.43),(331.73,-7.01),(331.83,-5.59),(331.93,-5.05),(332.03,-5.23),(332.14,-6.30),(332.24,-8.78),(332.34,-12.68),(332.45,-8.78),(332.55,-7.36),
(332.65,-4.88),(332.75,-9.14),(332.86,-11.97),(332.92,5.41),(333.00,2.57),(333.12,-0.62),(333.23,-2.39),(333.33,-4.52),(333.41,-1.33),(333.51,-1.68),
(333.62,-0.62),(333.72,1.16),(333.82,1.51),(333.95,4.88),(334.05,1.87),(334.15,0.45),(334.25,0.09),(334.36,-1.33),(334.46,-5.05),(334.56,-2.04),
(334.66,-0.62),(334.77,-0.97),(334.87,-0.26),(334.97,2.04),(335.08,-0.62),(335.18,-1.33),(335.28,-0.62),(335.38,-4.17),(335.49,-0.26),(335.59,0.09),
(335.69,0.80),(335.79,-0.26),(335.90,2.93),(336.00,0.45),(336.10,-4.17),(336.21,-3.10),(336.31,-0.97),(336.41,-1.33),(336.51,-2.04),(336.62,-0.26),
(336.72,0.80),(336.82,0.45),(336.93,1.16),(337.03,0.80),(337.13,1.51),(337.23,1.87),(337.34,3.28),(337.44,-0.26),(337.54,0.09),(337.64,1.51),
(337.75,-0.97),(337.85,0.09),(337.95,1.69),(338.06,-1.68),(338.16,-2.75),(338.26,-3.10),(338.36,-3.46),(338.47,-3.46),(338.57,-2.39),(338.67,5.59),
(338.77,-0.62),(338.88,-0.62),(338.98,-2.39),(339.08,-0.97),(339.19,-1.33),(339.29,-2.04),(339.39,-3.10),(339.49,-2.75),(339.60,-1.68),(339.70,-2.04),
(339.80,-0.62),(339.91,2.57),(340.01,-1.33),(340.11,-1.68),(340.21,-0.26),(340.32,0.45),(340.42,-0.62),(340.52,2.57),(340.62,1.16),(340.73,-1.33),
(340.83,1.16),(340.93,1.51),(341.04,1.87),(341.14,2.22),(341.24,2.93),(341.34,3.28),(341.45,0.45),(341.55,1.16),(341.65,1.87),(341.75,3.28),
(341.86,-0.26),(341.96,1.16),(342.06,0.45),(342.17,1.51),(342.27,0.45),(342.37,0.09),(342.47,1.16),(342.58,0.45),(342.68,-0.26),(342.78,-2.04),
(342.88,-1.33),(342.99,-0.62),(343.09,1.87),(343.19,2.75),(343.30,0.09),(343.40,-1.33),(343.50,-0.62),(343.60,0.45),(343.71,1.87),(343.81,0.80),
(343.91,2.22),(344.02,-0.62),(344.12,1.87),(344.22,7.19),(344.32,-0.26),(344.43,-3.10),(344.53,-1.68),(344.63,-5.23),(344.73,-1.33),(344.84,-0.26),
(344.92,0.09),
]

SIG_V_SERIES = [
(302.05,1.09),(302.15,0.96),(302.26,0.94),(302.36,1.07),(302.42,1.34),(302.50,1.07),(302.56,1.14),(302.67,1.03),(302.77,0.96),(302.87,1.14),
(302.98,1.41),(303.08,1.42),(303.18,1.21),(303.28,0.96),(303.39,1.28),(303.43,1.67),(303.49,1.39),(303.59,1.18),(303.69,1.07),(303.80,0.94),
(303.90,1.21),(303.96,1.35),(304.04,1.03),(304.11,1.10),(304.21,1.26),(304.31,1.07),(304.41,1.37),(304.52,1.14),(304.62,1.10),(304.72,1.07),
(304.83,0.93),(304.93,1.19),(305.03,0.98),(305.13,1.02),(305.24,0.91),(305.34,1.07),(305.44,1.00),(305.54,1.10),(305.65,1.00),(305.75,1.09),
(305.85,0.96),(305.96,1.07),(306.06,0.98),(306.16,1.10),(306.26,0.94),(306.37,0.93),(306.47,1.00),(306.53,1.07),(306.63,3.29),(306.72,1.53),
(306.78,0.96),(306.88,1.21),(306.98,1.10),(307.09,1.00),(307.19,0.94),(307.29,0.96),(307.39,0.91),(307.50,0.98),(307.56,0.87),(307.66,1.02),
(307.76,1.07),(307.87,1.10),(307.97,1.48),(308.07,1.18),(308.17,1.00),(308.28,0.94),(308.38,1.25),(308.44,2.19),(308.52,1.53),(308.63,0.98),
(308.73,1.07),(308.83,1.00),(308.94,1.03),(309.04,0.98),(309.14,1.02),(309.24,0.96),(309.35,1.07),(309.45,0.96),(309.55,1.09),(309.65,0.98),
(309.76,1.00),(309.86,1.12),(309.96,1.07),(310.07,1.14),(310.17,0.96),(310.27,1.10),(310.37,1.18),(310.48,1.28),(310.58,1.10),(310.68,1.03),
(310.79,1.18),(310.89,1.25),(310.95,1.48),(311.03,1.21),(311.13,1.00),(311.23,0.94),(311.34,1.19),(311.44,1.03),(311.54,1.23),(311.65,1.30),
(311.73,1.03),(311.81,1.25),(311.92,1.21),(312.02,1.14),(312.12,1.00),(312.22,1.03),(312.33,0.87),(312.43,1.00),(312.53,0.96),(312.63,1.02),
(312.74,0.96),(312.84,1.00),(312.94,1.14),(313.05,0.94),(313.15,1.12),(313.25,1.64),(313.35,1.14),(313.46,0.96),(313.56,0.94),(313.66,1.03),
(313.76,1.14),(313.87,1.00),(313.97,1.14),(314.07,1.12),(314.18,1.32),(314.28,1.87),(314.38,1.46),(314.48,1.03),(314.59,1.10),(314.69,1.00),
(314.79,1.14),(314.90,1.02),(315.00,1.12),(315.10,1.10),(315.20,1.02),(315.31,1.03),(315.41,1.14),(315.51,1.02),(315.61,0.98),(315.72,1.07),
(315.82,1.18),(315.92,1.34),(316.03,1.07),(316.13,0.96),(316.23,0.89),(316.33,1.03),(316.44,1.19),(316.54,1.10),(316.64,1.00),(316.74,1.14),
(316.85,1.07),(316.95,0.94),(317.05,1.07),(317.16,1.02),(317.26,1.09),(317.36,0.96),(317.46,1.00),(317.57,1.07),(317.67,0.98),(317.77,1.18),
(317.87,1.09),(317.98,1.34),(318.08,1.07),(318.18,0.96),(318.29,0.94),(318.39,1.23),(318.49,1.10),(318.59,1.18),(318.70,1.00),(318.80,0.96),
(318.90,1.30),(319.01,1.10),(319.11,1.07),(319.21,1.03),(319.31,1.10),(319.42,1.07),(319.52,1.00),(319.62,1.03),(319.72,0.98),(319.83,1.10),
(319.93,1.07),(320.03,1.00),(320.14,1.00),(320.24,0.89),(320.34,0.96),(320.44,0.93),(320.55,0.98),(320.65,1.00),(320.75,0.96),(320.86,1.25),
(320.96,1.48),(321.06,1.07),(321.16,0.96),(321.27,0.98),(321.37,1.09),(321.47,1.25),(321.57,1.00),(321.68,0.96),(321.78,1.10),(321.88,0.96),
(321.99,1.28),(322.09,1.32),(322.19,1.10),(322.29,0.98),(322.40,0.96),(322.50,1.10),(322.60,1.44),(322.70,1.14),(322.81,1.03),(322.91,0.96),
(323.01,1.03),(323.12,0.96),(323.22,1.09),(323.32,1.19),(323.42,1.53),(323.53,1.03),(323.63,0.96),(323.73,1.00),(323.84,0.98),(323.94,1.21),
(324.04,1.00),(324.14,1.10),(324.25,1.57),(324.35,1.78),(324.45,1.67),
(324.53,1.21),(324.64,1.28),(324.74,1.26),(324.84,1.39),(324.94,1.10),(325.05,1.07),(325.15,1.09),(325.25,1.02),(325.36,1.07),(325.46,1.00),
(325.56,0.96),(325.66,1.07),(325.77,1.02),(325.87,1.00),(325.97,1.03),(326.07,0.96),(326.18,1.07),(326.28,1.18),(326.38,1.25),(326.49,1.46),
(326.59,1.18),(326.69,1.07),(326.79,1.02),(326.90,1.07),(327.00,0.96),(327.10,0.91),(327.20,1.07),(327.31,1.02),(327.41,1.14),(327.51,1.03),
(327.62,1.18),(327.72,1.10),(327.82,1.18),(327.92,1.14),(328.03,1.18),(328.13,1.19),(328.23,1.23),(328.33,1.25),(328.44,1.32),(328.54,1.76),
(328.64,1.42),(328.75,1.05),(328.85,1.07),(328.95,1.03),(329.05,1.10),(329.16,1.07),(329.26,1.05),(329.36,1.18),(329.47,1.14),(329.57,1.05),
(329.67,1.03),(329.77,1.00),(329.88,0.98),(329.98,1.00),(330.08,0.91),(330.18,1.00),(330.29,1.07),(330.39,1.10),(330.49,0.96),(330.60,1.03),
(330.70,0.93),(330.80,1.07),(330.90,1.03),(331.01,1.00),(331.11,1.07),(331.21,0.98),(331.31,1.00),(331.42,1.03),(331.52,1.00),(331.62,1.05),
(331.73,1.07),(331.83,1.14),(331.93,1.23),(332.03,1.07),(332.14,1.18),(332.24,1.03),(332.34,1.14),(332.45,1.18),(332.55,1.07),(332.65,1.10),
(332.75,1.00),(332.86,1.03),(332.96,0.98),(333.06,1.07),(333.16,0.94),(333.27,0.89),(333.37,0.96),(333.47,1.00),(333.58,0.93),(333.68,1.03),
(333.78,1.00),(333.88,1.02),(333.99,1.03),(334.09,1.02),(334.19,1.07),(334.29,1.14),(334.40,1.03),(334.46,1.21),(334.54,1.62),(334.62,1.18),
(334.71,1.00),(334.81,1.07),(334.91,1.09),(335.01,0.96),(335.12,1.00),(335.22,0.98),(335.32,1.00),(335.42,1.28),(335.53,1.03),(335.63,0.96),
(335.73,1.05),(335.84,1.07),(335.94,0.96),(336.04,1.00),(336.14,0.98),(336.25,1.07),(336.35,1.18),(336.45,1.00),(336.56,0.96),(336.66,1.14),
(336.76,1.12),(336.86,1.35),(336.97,1.03),(337.07,0.98),(337.17,1.07),(337.27,0.96),(337.38,1.09),(337.48,1.02),(337.58,1.05),(337.69,1.00),
(337.79,1.09),(337.89,0.96),(337.99,1.03),(338.10,1.00),(338.20,1.03),(338.30,1.12),(338.40,0.96),(338.51,1.07),(338.61,1.00),(338.71,1.18),
(338.82,1.07),(338.92,0.98),(339.02,1.00),(339.12,1.07),(339.23,1.02),(339.33,1.00),(339.43,1.07),(339.54,1.09),(339.64,1.03),(339.74,1.10),
(339.84,1.07),(339.95,1.00),(340.05,0.93),(340.15,0.89),(340.25,0.94),(340.36,1.00),(340.46,1.10),(340.56,0.96),(340.67,0.87),(340.77,1.07),
(340.87,1.25),(340.97,1.18),(341.08,1.07),(341.18,1.00),(341.28,0.96),(341.38,1.07),(341.49,0.98),(341.59,0.96),(341.69,1.07),(341.80,0.96),
(341.90,1.00),(342.00,0.96),(342.10,1.02),(342.21,0.94),(342.31,1.03),(342.41,0.93),(342.52,1.10),(342.62,1.00),(342.72,1.09),(342.82,1.00),
(342.93,1.14),(343.03,1.03),(343.13,0.93),(343.23,1.03),(343.34,1.10),(343.44,0.93),(343.54,1.14),(343.65,0.89),(343.75,1.10),(343.85,1.00),
(343.95,1.14),(344.06,0.93),(344.16,1.10),(344.26,1.03),(344.36,1.00),(344.47,1.21),(344.57,1.42),(344.67,0.89),(344.73,1.14),(344.82,1.07),
(344.92,1.07),
]

# axis definitions (domains / tick values / titles)
X_DOMAIN = [300, 350]
X_TICKS = list(range(300, 351, 5))
PANELS = [
    dict(main=N_SERIES, sig=SIG_N_SERIES, ydom=[-25, 20], yticks=list(range(-25, 21, 5)),
         ytitle="n [mm]", sdom=[0, 5], sticks=[i * 0.5 for i in range(0, 11)], stitle="σn [mm]",
         width=806, titlex=396),
    dict(main=E_SERIES, sig=SIG_E_SERIES, ydom=[-30, 10], yticks=list(range(-30, 11, 5)),
         ytitle="e [mm]", sdom=[0, 5], sticks=[i * 0.5 for i in range(0, 11)], stitle="σe [mm]",
         width=815, titlex=406),
    dict(main=V_SERIES, sig=SIG_V_SERIES, ydom=[-30, 15], yticks=list(range(-30, 16, 5)),
         ytitle="v [mm]", sdom=[0.5, 5], sticks=[i * 0.5 for i in range(1, 11)], stitle="σv [mm]",
         width=815, titlex=406),
]

FONT = "DejaVu Sans"
H = 422
MAJOR10 = "datum.value % 10 === 0"
INTEGER = "abs(datum.value - round(datum.value)) < 0.01"


def make_panel(p):
    main_df = pd.DataFrame(p["main"], columns=["doy", "val"])
    sig_df = pd.DataFrame(p["sig"], columns=["doy", "sig"])

    x_enc = alt.X(
        "doy:Q",
        scale=alt.Scale(domain=X_DOMAIN, nice=False, zero=False),
        axis=alt.Axis(
            values=X_TICKS,
            tickSize={"condition": {"test": MAJOR10, "value": 36}, "value": 19},
            labelExpr=MAJOR10 + " ? '' + datum.value : ''",
            labelFont=FONT, labelFontSize=24.5, labelFontWeight="bold",
            labelPadding=17, labelFlush=False, labelOverlap=False, labelBound=False,
            title="DOY 2004", titleFont="Liberation Sans", titleFontSize=38,
            titleFontWeight="bold", titlePadding=5, titleX=p["titlex"],
        ),
    )

    main = alt.Chart(main_df).mark_line(
        color="black", strokeWidth=4.5, strokeJoin="round", strokeCap="round"
    ).encode(
        x=x_enc,
        y=alt.Y(
            "val:Q",
            scale=alt.Scale(domain=p["ydom"], nice=False, zero=False),
            axis=alt.Axis(
                orient="left", values=p["yticks"],
                tickSize={"condition": {"test": MAJOR10, "value": 38}, "value": 20},
                labelExpr=MAJOR10 + " ? '' + datum.value : ''",
                labelFont=FONT, labelFontSize=22, labelFontWeight="bold",
                labelPadding=18, labelOverlap=False, labelBound=False, labelFlush=False,
                title=p["ytitle"], titleFont=FONT, titleFontSize=28, titleFontWeight="bold",
                titlePadding=18,
            ),
        ),
    )

    sig = alt.Chart(sig_df).mark_line(color="black", strokeWidth=1).encode(
        x=alt.X("doy:Q", scale=alt.Scale(domain=X_DOMAIN, nice=False, zero=False)),
        y=alt.Y(
            "sig:Q",
            scale=alt.Scale(domain=p["sdom"], nice=False, zero=False),
            axis=alt.Axis(
                orient="right", values=p["sticks"], format=".1~f",
                tickSize={"condition": {"test": INTEGER, "value": 37}, "value": 18},
                labelPadding={"condition": {"test": INTEGER, "value": 29}, "value": 48},
                labelFont=FONT, labelFontSize=18.5, labelFontWeight="bold",
                labelAlign="right", labelOverlap=False, labelBound=False, labelFlush=False,
                title=p["stitle"], titleFont=FONT, titleFontSize=31, titleFontWeight="normal",
                titleAngle=270, titlePadding=48,
            ),
        ),
    )

    return alt.layer(main, sig).resolve_scale(y="independent").properties(width=p["width"], height=H)


p1, p2, p3 = [make_panel(p) for p in PANELS]
chart = alt.vconcat(alt.vconcat(p1, p2, spacing=22), p3, spacing=29).properties(
    padding={"left": 15, "top": 10, "right": 5, "bottom": 5},
    background="white",
).configure_axis(
    grid=False,
    domainColor="black", domainWidth=3.5,
    tickColor="black", tickWidth=3.5,
    labelColor="black", titleColor="black",
).configure_view(stroke=None)

chart.save("out.html", embed_options={"renderer": "svg", "actions": False})
